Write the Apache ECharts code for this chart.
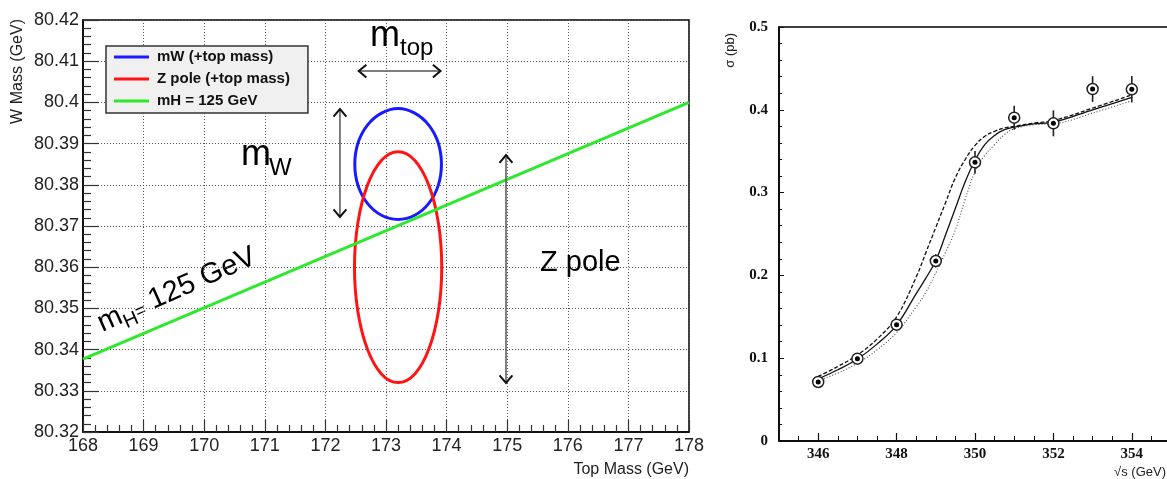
<!DOCTYPE html>
<html>
<head>
<meta charset="utf-8">
<script src="https://cdn.jsdelivr.net/npm/echarts@6/dist/echarts.min.js"></script>
<style>
html,body{margin:0;padding:0;background:#fff;}
#c{width:1167px;height:479px;}
</style>
</head>
<body>
<div id="c"></div>
<script>
// ---------- Left panel: W mass vs top mass ----------
const seriesNames = ['mW (+top mass)', 'Z pole (+top mass)', 'mH = 125 GeV'];
// contour points [top mass, W mass]
const mWContour = [
  [173.200, 80.3985], [173.474, 80.3974], [173.706, 80.3945], [173.861, 80.3902],
  [173.915, 80.3850], [173.861, 80.3798], [173.706, 80.3755], [173.474, 80.3726],
  [173.200, 80.3716], [172.926, 80.3726], [172.694, 80.3755], [172.539, 80.3798],
  [172.485, 80.3850], [172.539, 80.3902], [172.694, 80.3945], [172.926, 80.3974]
];
const zPoleContour = [
  [173.200, 80.3880], [173.476, 80.3859], [173.709, 80.3798], [173.865, 80.3707],
  [173.920, 80.3600], [173.865, 80.3493], [173.709, 80.3402], [173.476, 80.3341],
  [173.200, 80.3320], [172.924, 80.3341], [172.691, 80.3402], [172.535, 80.3493],
  [172.480, 80.3600], [172.535, 80.3707], [172.691, 80.3798], [172.924, 80.3859]
];
const higgsLine = [[168, 80.3377], [178, 80.4000]];
// annotation arrows [x1, y1, x2, y2] in data units
const mTopArrow = [172.55, 80.4076, 173.90, 80.4076];
const mWArrow = [172.24, 80.3984, 172.24, 80.3722];
const zPoleArrow = [174.98, 80.3872, 174.98, 80.3319];

// ---------- Right panel: threshold scan ----------
const sqrtS = [346, 347, 348, 349, 350, 351, 352, 353, 354];
const sigma = [0.0713, 0.0994, 0.1405, 0.2174, 0.3366, 0.3905, 0.3837, 0.4251, 0.4247];
const sigmaErr = [0.003, 0.004, 0.005, 0.008, 0.0137, 0.0145, 0.0157, 0.0155, 0.016];
const curveX = [346, 346.5, 347, 347.5, 348, 348.5, 348.75, 349, 349.25, 349.5, 349.75, 350, 350.25, 350.5, 350.75, 351, 351.5, 352, 353, 354];
const curveSolid = [0.075, 0.086, 0.099, 0.117, 0.140, 0.178, 0.197, 0.218, 0.249, 0.281, 0.313, 0.339, 0.358, 0.369, 0.376, 0.379, 0.383, 0.385, 0.400, 0.415];
const curveDashed = [0.078, 0.090, 0.104, 0.123, 0.150, 0.198, 0.228, 0.258, 0.288, 0.318, 0.340, 0.357, 0.368, 0.374, 0.378, 0.380, 0.384, 0.387, 0.402, 0.418];
const curveDotted = [0.073, 0.082, 0.094, 0.110, 0.131, 0.162, 0.180, 0.203, 0.228, 0.255, 0.292, 0.325, 0.345, 0.358, 0.370, 0.377, 0.382, 0.383, 0.396, 0.411];
const sqrtSLabels = [346, 348, 350, 352, 354];

const SANS = '"Liberation Sans", Arial, sans-serif';
const SERIF = '"Liberation Serif", "Times New Roman", serif';
const BLUE = '#1a1aff', RED = '#ff1414', GREEN = '#2ee82e';

function pairs(xs, ys) { return xs.map((x, i) => [x, ys[i]]); }

// closed Catmull-Rom curve through the contour points (converted by the axes)
function contourItem(points, color) {
  return function (params, api) {
    if (params.dataIndex !== 0) return null;
    const P = points.map(p => api.coord(p));
    const n = P.length;
    let d = 'M' + P[0][0].toFixed(2) + ' ' + P[0][1].toFixed(2);
    for (let i = 0; i < n; i++) {
      const p0 = P[(i - 1 + n) % n], p1 = P[i], p2 = P[(i + 1) % n], p3 = P[(i + 2) % n];
      const c1 = [p1[0] + (p2[0] - p0[0]) / 6, p1[1] + (p2[1] - p0[1]) / 6];
      const c2 = [p2[0] - (p3[0] - p1[0]) / 6, p2[1] - (p3[1] - p1[1]) / 6];
      d += ' C' + c1[0].toFixed(2) + ' ' + c1[1].toFixed(2) + ' ' + c2[0].toFixed(2) + ' ' + c2[1].toFixed(2) + ' ' + p2[0].toFixed(2) + ' ' + p2[1].toFixed(2);
    }
    d += ' Z';
    return { type: 'path', shape: { pathData: d }, style: { fill: null, stroke: color, lineWidth: 3 } };
  };
}

function arrowItem(params, api) {
  const p1 = api.coord([api.value(0), api.value(1)]);
  const p2 = api.coord([api.value(2), api.value(3)]);
  const ang = Math.atan2(p2[1] - p1[1], p2[0] - p1[0]);
  const L = 10, a = 0.7;
  function head(p, dir) {
    return [
      [p[0] - L * Math.cos(dir - a), p[1] - L * Math.sin(dir - a)],
      [p[0], p[1]],
      [p[0] - L * Math.cos(dir + a), p[1] - L * Math.sin(dir + a)]
    ];
  }
  const hs = { stroke: '#111', lineWidth: 2, fill: null };
  return {
    type: 'group',
    children: [
      { type: 'line', shape: { x1: p1[0], y1: p1[1], x2: p2[0], y2: p2[1] }, style: { stroke: '#555', lineWidth: 1.5 } },
      { type: 'polyline', shape: { points: head(p2, ang) }, style: hs },
      { type: 'polyline', shape: { points: head(p1, ang + Math.PI) }, style: hs }
    ]
  };
}

function errItem(params, api) {
  const x = api.value(0), y = api.value(1), e = api.value(2);
  const lo = api.coord([x, y - e]);
  const hi = api.coord([x, y + e]);
  return { type: 'line', shape: { x1: lo[0], y1: lo[1], x2: hi[0], y2: hi[1] }, style: { stroke: '#222', lineWidth: 1.6 } };
}

const chart = echarts.init(document.getElementById('c'), null, { renderer: 'canvas' });

const leftAxisCommon = {
  axisLine: { show: true, onZero: false, lineStyle: { color: '#000', width: 1.5 } },
  axisLabel: { fontFamily: SANS, fontSize: 18, color: '#222', showMinLabel: true, showMaxLabel: true, hideOverlap: false },
  splitLine: { show: true, lineStyle: { color: '#555', width: 1, type: [1, 2] } }
};

const option = {
  animation: false,
  backgroundColor: '#fff',
  grid: [
    { left: 83, top: 20, width: 606, height: 412, show: true, borderColor: '#000', borderWidth: 1.5, backgroundColor: '#fff', outerBoundsMode: 'none' },
    { left: 779, top: 27, width: 392, height: 414, show: true, borderColor: '#000', borderWidth: 1.5, backgroundColor: '#fff', outerBoundsMode: 'none' }
  ],
  legend: {
    data: seriesNames,
    orient: 'vertical', left: 106, top: 46,
    padding: [0, 18, 1, 8], itemGap: 0,
    itemWidth: 35, itemHeight: 3, icon: 'rect',
    backgroundColor: '#f0f0f0', borderColor: '#333', borderWidth: 1.5, borderRadius: 0,
    textStyle: { fontFamily: SANS, fontSize: 15, fontWeight: 'bold', color: '#111', lineHeight: 22, padding: [0, 0, 0, 3] }
  },
  xAxis: [
    Object.assign({}, leftAxisCommon, {
      gridIndex: 0, type: 'value', min: 168, max: 178, interval: 1, position: 'bottom',
      axisTick: { show: true, inside: true, length: 12, lineStyle: { color: '#333', width: 1.2 } },
      minorTick: { show: true, splitNumber: 5, length: 7, lineStyle: { color: '#333', width: 1.2 } },
      axisLabel: Object.assign({}, leftAxisCommon.axisLabel, { margin: 5 })
    }),
    {
      gridIndex: 1, type: 'value', min: 345, max: 355, interval: 0.5, position: 'bottom',
      axisLine: { show: true, onZero: false, lineStyle: { color: '#000', width: 1.5 } },
      axisTick: { show: true, inside: true, length: 5, lineStyle: { color: '#111', width: 1 } },
      axisLabel: { customValues: sqrtSLabels, fontFamily: SERIF, fontWeight: 'bold', fontSize: 15, color: '#111', margin: 6, formatter: v => String(v) },
      splitLine: { show: false }
    },
    {
      gridIndex: 1, type: 'value', min: 345, max: 355, position: 'bottom',
      axisLine: { show: false },
      axisTick: { show: true, inside: true, length: 8, customValues: sqrtSLabels, lineStyle: { color: '#111', width: 1.2 } },
      axisLabel: { show: false },
      splitLine: { show: false }
    }
  ],
  yAxis: [
    Object.assign({}, leftAxisCommon, {
      gridIndex: 0, type: 'value', min: 80.32, max: 80.42, interval: 0.01, position: 'left',
      axisTick: { show: true, inside: true, length: 16, lineStyle: { color: '#333', width: 1.2 } },
      minorTick: { show: true, splitNumber: 5, length: 8, lineStyle: { color: '#333', width: 1.2 } },
      axisLabel: Object.assign({}, leftAxisCommon.axisLabel, { margin: 4, formatter: v => String(+v.toFixed(2)) })
    }),
    {
      gridIndex: 1, type: 'value', min: 0, max: 0.5, interval: 0.1, position: 'left',
      axisLine: { show: true, onZero: false, lineStyle: { color: '#000', width: 1.5 } },
      axisTick: { show: true, inside: true, length: 5, lineStyle: { color: '#111', width: 1 } },
      minorTick: { show: true, splitNumber: 5, length: 3, lineStyle: { color: '#111', width: 1 } },
      axisLabel: { fontFamily: SERIF, fontWeight: 'bold', fontSize: 15, color: '#111', margin: 11, showMinLabel: true, showMaxLabel: true, formatter: v => String(+v.toFixed(1)) },
      splitLine: { show: false }
    }
  ],
  series: [
    { name: seriesNames[0], type: 'custom', xAxisIndex: 0, yAxisIndex: 0, data: mWContour, encode: { x: 0, y: 1 }, renderItem: contourItem(mWContour, BLUE), color: BLUE, itemStyle: { color: BLUE }, silent: true, z: 3 },
    { name: seriesNames[1], type: 'custom', xAxisIndex: 0, yAxisIndex: 0, data: zPoleContour, encode: { x: 0, y: 1 }, renderItem: contourItem(zPoleContour, RED), color: RED, itemStyle: { color: RED }, silent: true, z: 4 },
    { name: seriesNames[2], type: 'line', xAxisIndex: 0, yAxisIndex: 0, data: higgsLine, showSymbol: false, symbol: 'none', color: GREEN, itemStyle: { color: GREEN }, lineStyle: { color: GREEN, width: 3 }, z: 5 },
    { type: 'custom', xAxisIndex: 0, yAxisIndex: 0, data: [mTopArrow, mWArrow, zPoleArrow], renderItem: arrowItem, silent: true, z: 6 },

    { type: 'line', xAxisIndex: 1, yAxisIndex: 1, data: pairs(curveX, curveSolid), smooth: 0.4, showSymbol: false, symbol: 'none', lineStyle: { color: '#111', width: 1.3 }, z: 3 },
    { type: 'line', xAxisIndex: 1, yAxisIndex: 1, data: pairs(curveX, curveDashed), smooth: 0.4, showSymbol: false, symbol: 'none', lineStyle: { color: '#111', width: 1.3, type: [4, 2] }, z: 3 },
    { type: 'line', xAxisIndex: 1, yAxisIndex: 1, data: pairs(curveX, curveDotted), smooth: 0.4, showSymbol: false, symbol: 'none', lineStyle: { color: '#444', width: 1.1, type: [1, 2] }, z: 3 },
    { type: 'custom', xAxisIndex: 1, yAxisIndex: 1, data: sqrtS.map((x, i) => [x, sigma[i], sigmaErr[i]]), encode: { x: 0, y: 1 }, renderItem: errItem, silent: true, z: 4 },
    { type: 'scatter', xAxisIndex: 1, yAxisIndex: 1, data: pairs(sqrtS, sigma), symbol: 'circle', symbolSize: 11, itemStyle: { color: '#fff', borderColor: '#222', borderWidth: 1.5, opacity: 1 }, z: 5, silent: true },
    { type: 'scatter', xAxisIndex: 1, yAxisIndex: 1, data: pairs(sqrtS, sigma), symbol: 'circle', symbolSize: 5, itemStyle: { color: '#000', opacity: 1 }, z: 6, silent: true }
  ],
  graphic: [
    // axis titles
    { type: 'text', x: 18, y: 19, rotation: Math.PI / 2, style: { text: 'W Mass (GeV)', align: 'right', verticalAlign: 'middle', fontFamily: SANS, fontSize: 16, fill: '#222' } },
    { type: 'text', x: 689, y: 470, style: { text: 'Top Mass (GeV)', align: 'right', verticalAlign: 'middle', fontFamily: SANS, fontSize: 16, fill: '#222' } },
    { type: 'text', x: 730, y: 33, rotation: Math.PI / 2, style: { text: 'σ (pb)', align: 'right', verticalAlign: 'middle', fontFamily: SANS, fontSize: 13, fill: '#222' } },
    { type: 'text', x: 1166, y: 472, style: { text: '√s (GeV)', align: 'right', verticalAlign: 'middle', fontFamily: SANS, fontSize: 13, fill: '#222' } },
    // annotations
    { type: 'text', x: 370, y: 36, z: 10, style: { text: 'm', align: 'left', verticalAlign: 'middle', fontFamily: SANS, fontSize: 36, fill: '#000' } },
    { type: 'text', x: 400, y: 48.5, z: 10, style: { text: 'top', align: 'left', verticalAlign: 'middle', fontFamily: SANS, fontSize: 24, fill: '#000' } },
    { type: 'text', x: 241, y: 155.5, z: 10, style: { text: 'm', align: 'left', verticalAlign: 'middle', fontFamily: SANS, fontSize: 36, fill: '#000' } },
    { type: 'text', x: 269, y: 168.7, z: 10, style: { text: 'W', align: 'left', verticalAlign: 'middle', fontFamily: SANS, fontSize: 24, fill: '#000' } },
    { type: 'text', x: 540, y: 263, z: 10, style: { text: 'Z pole', align: 'left', verticalAlign: 'middle', fontFamily: SANS, fontSize: 29, fill: '#000' } },
    {
      type: 'group', x: 103, y: 334, rotation: 24 * Math.PI / 180, z: 10,
      children: [
        { type: 'text', x: 0, y: -10.1, style: { text: 'm', align: 'left', verticalAlign: 'middle', fontFamily: SANS, fontSize: 29, fill: '#000' } },
        { type: 'text', x: 24, y: -0.9, style: { text: 'H', align: 'left', verticalAlign: 'middle', fontFamily: SANS, fontSize: 20, fill: '#000' } },
        { type: 'text', x: 38.5, y: -5.4, style: { text: '=', align: 'left', verticalAlign: 'middle', fontFamily: SANS, fontSize: 18, fill: '#000' } },
        { type: 'text', x: 56, y: -10.1, style: { text: '125 GeV', align: 'left', verticalAlign: 'middle', fontFamily: SANS, fontSize: 29, fill: '#000' } }
      ]
    }
  ]
};

chart.setOption(option);
</script>
</body>
</html>
